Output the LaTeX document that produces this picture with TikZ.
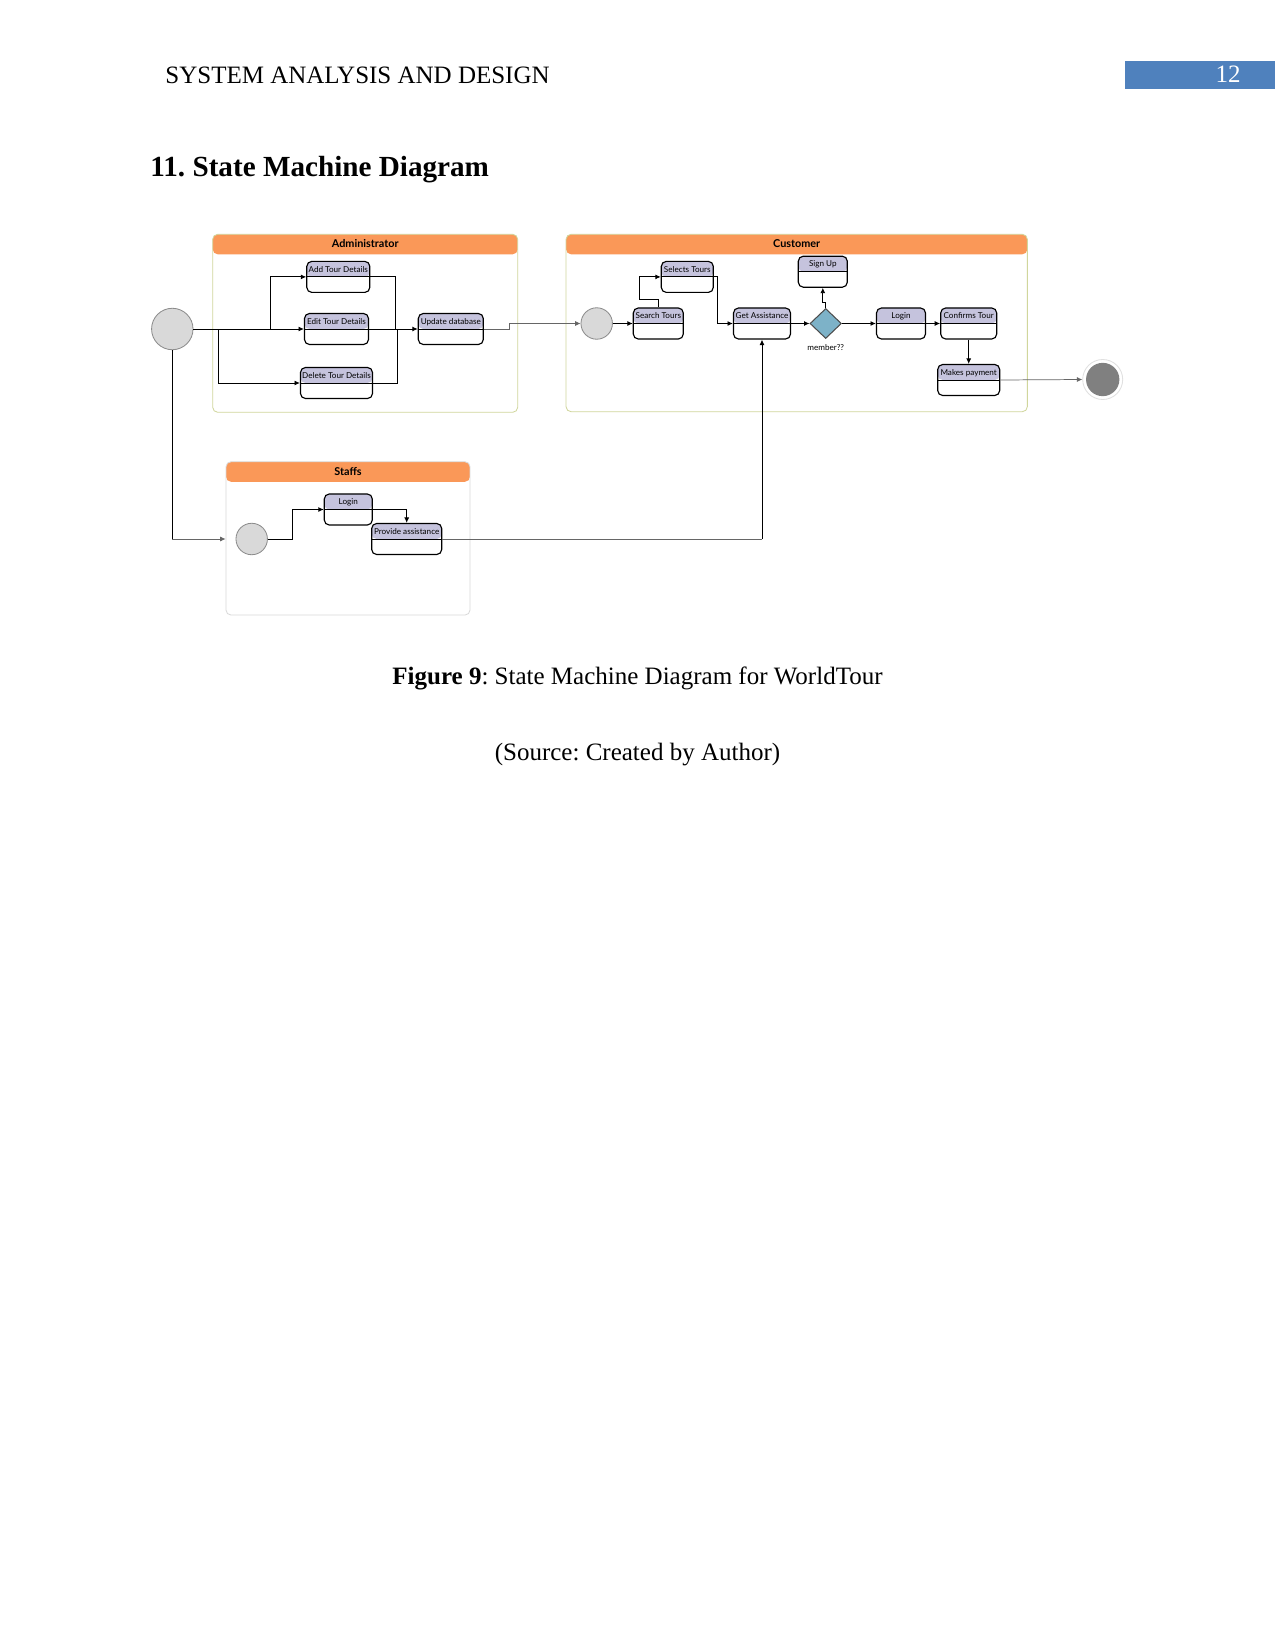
\documentclass[tikz,border=0pt]{standalone}
\usepackage{fontspec}
\setmainfont{Liberation Serif}
\newfontfamily\diafont{Lato}
\usetikzlibrary{arrows.meta, positioning, shapes.geometric}
\frenchspacing

\definecolor{laneorange}{RGB}{250,152,88}
\definecolor{laneline}{RGB}{208,214,156}
\definecolor{statehead}{RGB}{197,195,221}
\definecolor{initgrey}{RGB}{217,217,217}
\definecolor{finalgrey}{RGB}{128,128,128}
\definecolor{choiceblue}{RGB}{125,178,200}
\definecolor{pagebox}{RGB}{79,129,189}

\begin{document}
\begin{tikzpicture}[x=0.48pt, y=-0.48pt,
    lane/.style={draw=#1, line width=0.4pt, rounded corners=2.4pt,
      path picture={\fill[laneorange] (path picture bounding box.north west)
        rectangle ([yshift=-9.6pt]path picture bounding box.north east);}},
    lanetitle/.style={font=\diafont\bfseries\fontsize{5.2}{6}\selectfont, inner sep=0pt},
    state/.style={draw, line width=0.55pt, rounded corners=2.4pt,
      minimum width=#1*0.48pt, minimum height=14.9pt,
      inner xsep=0.8pt, inner ysep=0.8pt, text height=4.3pt, text depth=8.9pt,
      font=\diafont\fontsize{3.9}{4}\selectfont,
      path picture={\fill[statehead] (path picture bounding box.north west)
        rectangle (path picture bounding box.east);
        \draw[line width=0.45pt] (path picture bounding box.west) -- (path picture bounding box.east);}},
    initst/.style={circle, draw=black!45, fill=initgrey, minimum size=#1, inner sep=0pt},
    conn/.style={line width=0.45pt, -{Latex[length=2.6pt, width=2.4pt]}},
    thinconn/.style={line width=0.35pt, draw=black!60, -{Latex[length=2.6pt, width=2.4pt]}},
  ]
  \useasboundingbox (0,0) rectangle (1275,1651);
  \fill[white] (0,0) rectangle (1275,1651);

  % page header and title
  \node[anchor=base west, font=\fontsize{12}{14}\selectfont, inner sep=0pt] (runhead) at (165,84) {SYSTEM ANALYSIS AND DESIGN};
  \node[fill=pagebox, minimum width=150*0.48pt, minimum height=28.5*0.48pt, inner sep=0pt] (pgbox) at (1199.5,75.2) {};
  \node[anchor=base, text=white, font=\fontsize{12}{14}\selectfont, inner sep=0pt] (pgno) at (1228,83) {12};
  \node[anchor=base west, font=\bfseries\fontsize{14}{16}\selectfont, inner sep=0pt] (title) at (150,177) {11. State Machine Diagram};

  % swimlanes
  \node[lane=laneline, minimum width=305*0.48pt, minimum height=178*0.48pt] (admin) at (365.2,323.3) {};
  \node[lanetitle] (admint) at ([yshift=-4.8pt]admin.north) {Administrator};
  \node[lane=laneline, minimum width=461.3*0.48pt, minimum height=177.4*0.48pt] (cust) at (796.7,323) {};
  \node[lanetitle] (custt) at ([yshift=-4.8pt]cust.north) {Customer};
  \node[lane=black!15, minimum width=244*0.48pt, minimum height=153.3*0.48pt] (staff) at (348,538.4) {};
  \node[lanetitle] (stafft) at ([yshift=-4.8pt]staff.north) {Staffs};

  % administrator
  \node[initst=19.9pt] (ainit) at (172.3,329) {};
  \node[state=63] (addtour) at (338.3,276.9) {Add Tour Details};
  \node[state=64] (edittour) at (336.5,329) {Edit Tour Details};
  \node[state=72] (deltour) at (336.5,383) {Delete Tour Details};
  \node[state=65] (upddb) at (450.8,329) {Update database};
  \coordinate (splitdel) at (218.3,329);
  \coordinate (splitadd) at (270,329);
  \coordinate (joinadd) at (395,329);
  \coordinate (joindel) at (397.7,329);

  % customer
  \node[initst=15.1pt] (cinit) at (596.7,323.5) {};
  \node[state=50] (search) at (658.3,323.5) {Search Tours};
  \node[state=52] (selects) at (687.3,276.9) {Selects Tours};
  \node[state=57] (getassist) at (762,323.5) {Get Assistance};
  \node[diamond, draw=black!70, fill=choiceblue, line width=0.5pt, inner sep=0pt,
    minimum width=15.1pt, minimum height=14.4pt] (member) at (825.7,323.5) {};
  \node[font=\diafont\fontsize{3.9}{4}\selectfont, inner sep=0pt, below=2.6pt of member] (membert) {member??};
  \node[state=49] (signup) at (822.8,271.7) {Sign Up};
  \node[state=49] (clogin) at (901,323.5) {Login};
  \node[state=56] (confirm) at (968.7,323.5) {Confirms Tour};
  \node[state=62] (payment) at (968.7,380) {Makes payment};
  \node[circle, draw=black!12, fill=white, minimum size=19.2pt, inner sep=0pt,
    path picture={\fill[finalgrey] (path picture bounding box.center) circle (8pt);}] (final) at (1102.7,379.5) {};
  \coordinate (loopup) at (639.3,299);

  % staffs
  \node[initst=15.1pt] (sinit) at (251.7,539) {};
  \node[state=48] (slogin) at (348.3,509.5) {Login};
  \node[state=70] (provide) at (406.7,539) {Provide assistance};
  \coordinate (assistturn) at (762,539);

  % transitions
  \draw[conn] (ainit.east) -- (edittour.west);
  \draw[conn] (splitdel) |- (deltour.west);
  \draw[conn] (splitadd) |- (addtour.west);
  \draw[line width=0.45pt] (addtour.east) -| (joinadd);
  \draw[line width=0.45pt] (deltour.east) -| (joindel);
  \draw[conn] (edittour.east) -- (upddb.west);
  \draw[thinconn] (upddb.east) -- ++(25,0) |- (cinit.west);
  \draw[line width=0.45pt] (ainit.south) |- (sinit -| ainit.south);
  \draw[thinconn] (sinit -| ainit.south) -- (sinit -| staff.west);

  \draw[conn] (cinit.east) -- (search.west);
  \draw[conn] (search.north) |- (loopup) |- (selects.west);
  \draw[conn] (selects.east) -- ++(4,0) |- (getassist.west);
  \draw[conn] (getassist.east) -- (member.west);
  \draw[conn] (member.north) -- ++(0,-6) -| (signup.south);
  \draw[conn] (member.east) -- (clogin.west);
  \draw[conn] (clogin.east) -- (confirm.west);
  \draw[conn] (confirm.south) -- (payment.north);
  \draw[thinconn] (payment.east) -- (final.west);

  \draw[conn] (sinit.east) -- ++(24.3,0) |- (slogin.west);
  \draw[conn] (slogin.east) -| (provide.north);
  \draw[line width=0.35pt, draw=black!60] (provide.east) -- (assistturn);
  \draw[conn] (assistturn) -- (getassist.south);

  % caption
  \node[anchor=base, font=\fontsize{12}{14}\selectfont, inner sep=0pt] (caption) at (637.5,684) {\textbf{Figure 9}: State Machine Diagram for WorldTour};
  \node[anchor=base, font=\fontsize{12}{14}\selectfont, inner sep=0pt] (source) at (637.5,760) {(Source: Created by Author)};
\end{tikzpicture}
\end{document}
